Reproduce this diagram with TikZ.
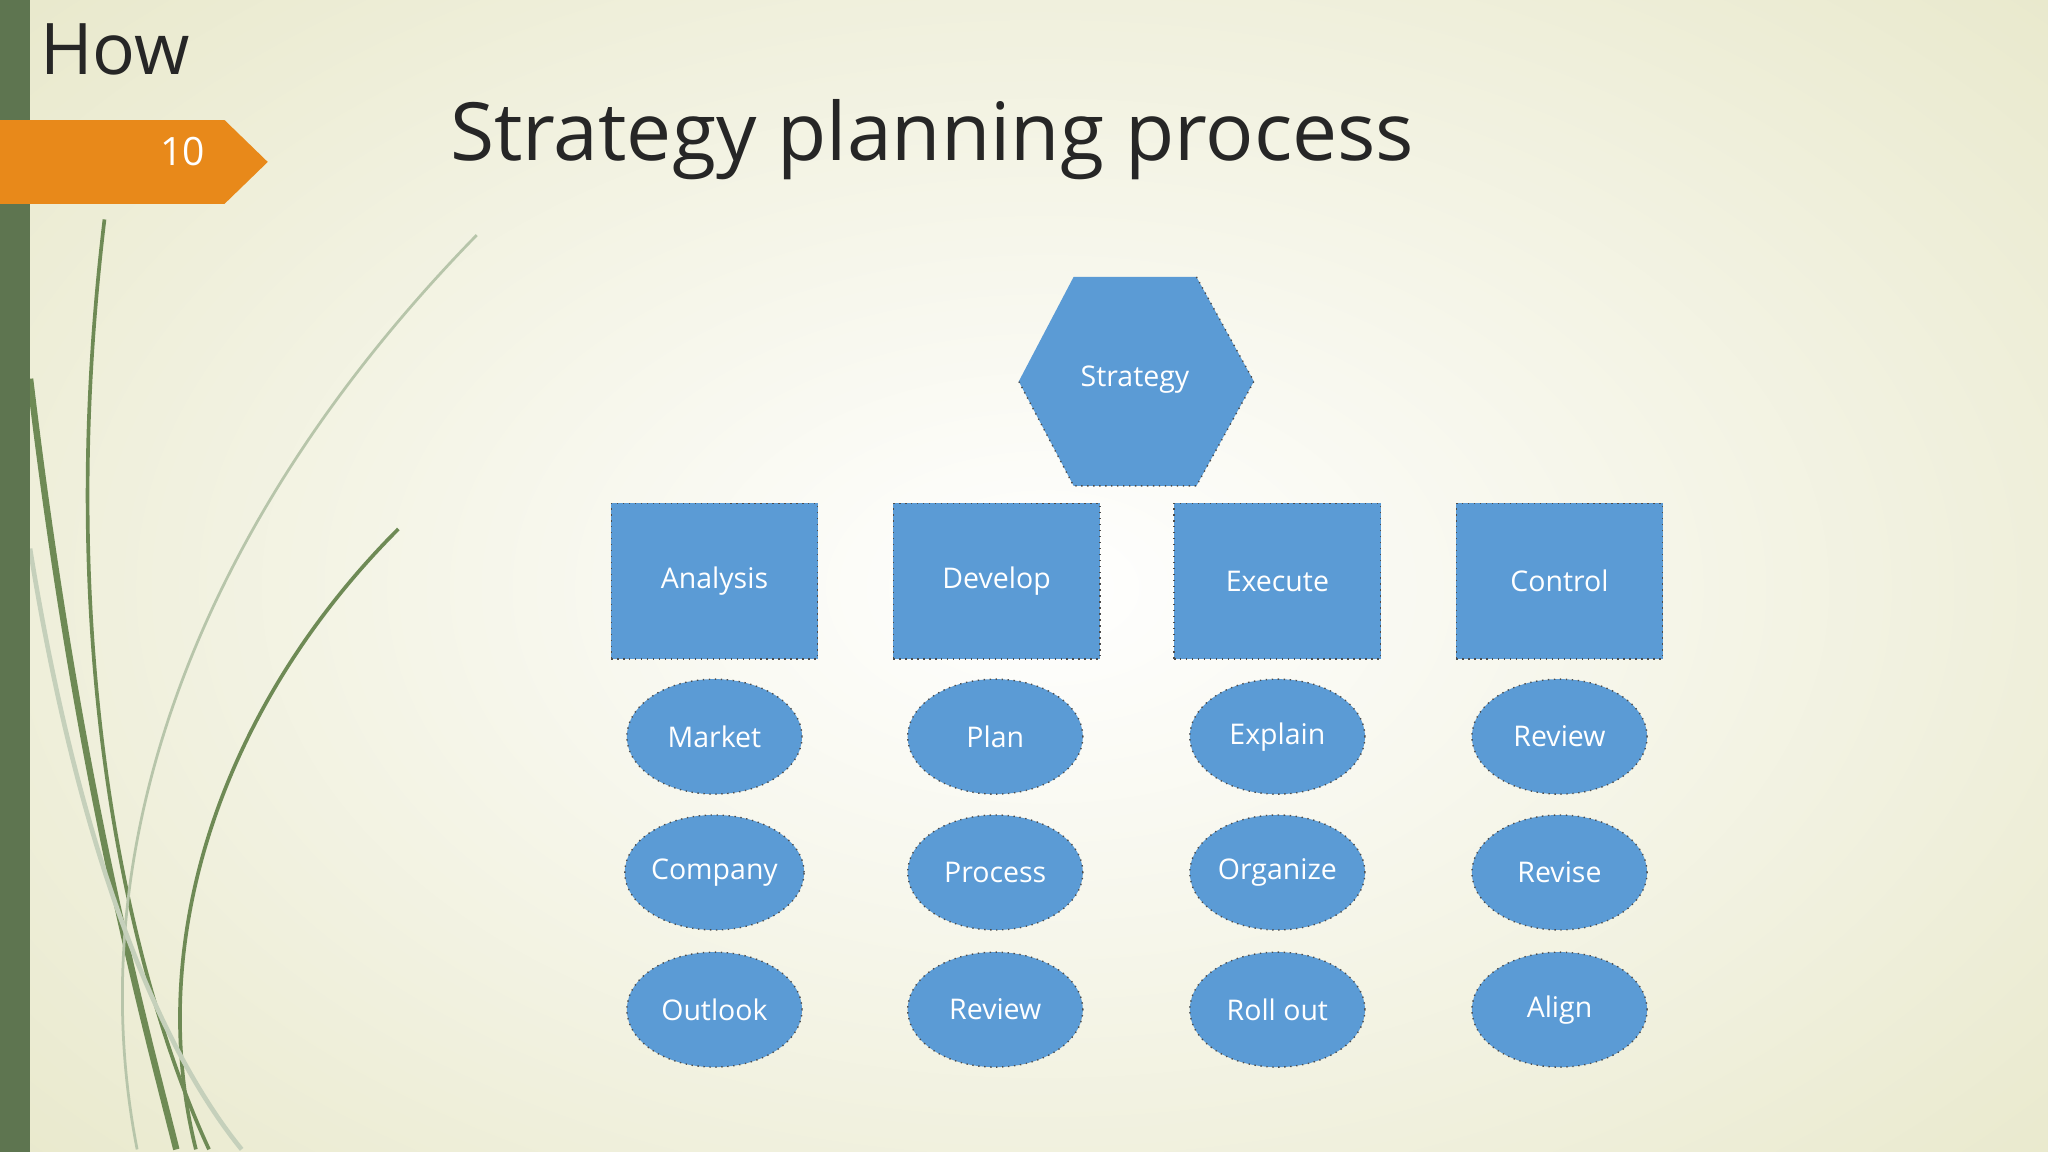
\documentclass[tikz,border=0pt]{standalone}
\usepackage{fontspec}
\setmainfont{Open Sans}
\usetikzlibrary{shapes.geometric}
\definecolor{boxblue}{HTML}{5B9BD5}
\definecolor{bargreen}{HTML}{5E7550}
\definecolor{leaf}{HTML}{6E8A55}
\definecolor{orng}{HTML}{E8891A}
\definecolor{bgedge}{HTML}{E6E6C6}
\begin{document}
\begin{tikzpicture}[x=0.01cm,y=-0.01cm,
  lbl/.style={text=white,font=\fontsize{6.2pt}{7pt}\selectfont},
  rbox/.style={lbl,fill=boxblue,minimum width=1.58cm,minimum height=1.19cm,draw=black!70,densely dotted,line width=0.3pt},
  ell/.style={lbl,ellipse,fill=boxblue,minimum width=1.34cm,minimum height=0.88cm,inner sep=0pt,draw=black!70,densely dotted,line width=0.3pt}]
\useasboundingbox (0,0) rectangle (1568,882);
\shade[inner color=white,outer color=bgedge] (-400,-300) rectangle (2000,1200);
\fill[white,opacity=0.0] (0,0) rectangle (1568,882);
% leaves
\draw[leaf,line width=0.8pt] (80,168) .. controls (40,500) and (100,750) .. (160,880);
\draw[leaf,line width=1.4pt] (23,290) .. controls (60,600) and (110,780) .. (135,880);
\draw[leaf!50,line width=0.6pt] (365,180) .. controls (150,400) and (60,650) .. (105,880);
\draw[leaf,line width=0.8pt] (305,405) .. controls (170,540) and (110,720) .. (150,880);
\draw[leaf!40,line width=1pt] (23,420) .. controls (60,650) and (120,800) .. (185,880);
\fill[bargreen] (0,0) rectangle (23,882);
% header
\node[anchor=west,inner sep=0pt,font=\fontsize{15.5pt}{17pt}\selectfont,text=black!85] (how) at (30,38) {How};
\fill[orng] (0,92) -- (172,92) -- (205,124) -- (172,156) -- (0,156) -- cycle;
\node[text=white,font=\fontsize{8.5pt}{10pt}\selectfont] (num) at (140,116) {10};
\node[anchor=west,inner sep=0pt,font=\fontsize{17.5pt}{20pt}\selectfont,text=black!85] (title) at (344,107) {Strategy planning process};
% hexagon
\fill[boxblue] (822,212) -- (916,212) -- (960,292) -- (916,372) -- (822,372) -- (780,292) -- cycle;
\draw[black!70,densely dotted,line width=0.3pt] (916,212) -- (960,292) -- (916,372) -- (822,372) -- (780,292);
\node[lbl] (strategy) at (869,291) {Strategy};
% boxes
\node[rbox] (analysis) at (547,445) {Analysis};
\node[rbox] (develop) at (763,445) {Develop};
\node[rbox] (execute) at (978,445) {Execute};
\node[rbox] (control) at (1194,445) {Control};
% ellipses
\node[ell] (market) at (547,564) {Market};
\node[ell] (company) at (547,668) {Company};
\node[ell] (outlook) at (547,773) {Outlook};
\node[ell] (plan) at (762,564) {Plan};
\node[ell] (process) at (762,668) {Process};
\node[ell] (review1) at (762,773) {Review};
\node[ell] (explain) at (978,564) {Explain};
\node[ell] (organize) at (978,668) {Organize};
\node[ell] (rollout) at (978,773) {Roll out};
\node[ell] (review2) at (1194,564) {Review};
\node[ell] (revise) at (1194,668) {Revise};
\node[ell] (align) at (1194,773) {Align};
\end{tikzpicture}
\end{document}
